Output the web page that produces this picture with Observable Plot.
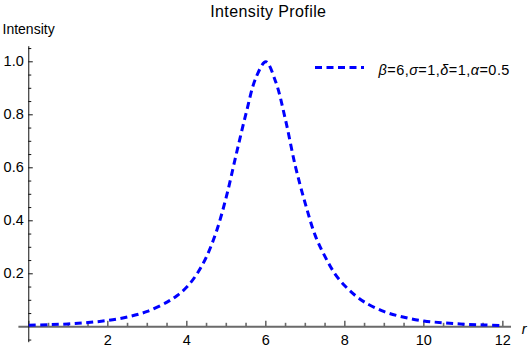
<!DOCTYPE html>
<html>
<head>
<meta charset="utf-8">
<script src="https://cdn.jsdelivr.net/npm/d3@7"></script>
<script src="https://cdn.jsdelivr.net/npm/@observablehq/plot@0.6"></script>
<style>
  html, body { margin: 0; padding: 0; background: #fff; }
  svg { display: block; }
</style>
</head>
<body>
<div id="chart"></div>
<script>
// Data
const rValues = [0, 0.5, 1, 1.5, 2, 2.5, 3, 3.5, 3.75, 4, 4.25, 4.5, 4.75, 5, 5.25, 5.5, 5.75, 6,
                 6.25, 6.5, 6.75, 7, 7.25, 7.5, 7.75, 8, 8.25, 8.5, 9, 9.5, 10, 10.5, 11, 11.5, 12];
const intensityValues = [0.006, 0.008, 0.011, 0.016, 0.024, 0.037, 0.058, 0.093, 0.117, 0.15, 0.198, 0.265, 0.36, 0.49, 0.65, 0.805, 0.94, 1.0,
                 0.925, 0.78, 0.605, 0.465, 0.345, 0.265, 0.2, 0.155, 0.12, 0.093, 0.057, 0.036, 0.022, 0.015, 0.01, 0.007, 0.005];
const xMajorTicks = [2, 4, 6, 8, 10, 12];
const xMinorTicks = [0.5, 1, 1.5, 2.5, 3, 3.5, 4.5, 5, 5.5, 6.5, 7, 7.5, 8.5, 9, 9.5, 10.5, 11, 11.5];
const yMajorTicks = [0.2, 0.4, 0.6, 0.8, 1.0];
const yMinorTicks = [-0.05, 0.05, 0.1, 0.15, 0.25, 0.3, 0.35, 0.45, 0.5, 0.55, 0.65, 0.7, 0.75, 0.85, 0.9, 0.95, 1.05];
const xDomain = [-0.25, 12.25];
const yDomain = [-0.06, 1.057];
const titleText = "Intensity Profile";
const yLabel = "Intensity";
const xLabel = "r";
const legendParts = [
  ["β", true], ["=6,", false], ["σ", true], ["=1,", false],
  ["δ", true], ["=1,", false], ["α", true], ["=0.5", false]
];

const data = rValues.map((r, i) => ({r, v: intensityValues[i]}));

const W = 528, H = 347;
const mL = 18.4, mR = 15.8, mT = 46.2, mB = 4.8;
// pixel -> data helpers for tick lengths
const pxX = (xDomain[1] - xDomain[0]) / (W - mL - mR);
const pxY = (yDomain[1] - yDomain[0]) / (H - mT - mB);

const font = "'Liberation Sans', Arial, sans-serif";

const plot = Plot.plot({
  width: W,
  height: H,
  marginLeft: mL,
  marginRight: mR,
  marginTop: mT,
  marginBottom: mB,
  x: {domain: xDomain, axis: null},
  y: {domain: yDomain, axis: null},
  style: {fontFamily: font, background: "#fff", overflow: "visible"},
  marks: [
    // x axis line
    Plot.ruleY([0], {x1: xDomain[0], x2: xDomain[1] - 0.03, stroke: "#6a6a6a", strokeWidth: 2}),
    // x ticks (upward)
    Plot.ruleX([0, ...xMajorTicks], {y1: 0, y2: 5.5 * pxY, stroke: "#6a6a6a", strokeWidth: 1.6}),
    Plot.ruleX(xMinorTicks, {y1: 0, y2: 3.5 * pxY, stroke: "#6a6a6a", strokeWidth: 1.6}),
    // x tick labels
    Plot.text(xMajorTicks, {x: d => d, y: 0, text: d => String(d), dy: 18, lineAnchor: "bottom",
      fontSize: 14.5, fill: "#000"}),
    // y axis line
    Plot.ruleX([0], {y1: yDomain[0], y2: yDomain[1], stroke: "#111", strokeWidth: 1}),
    // y ticks (rightward)
    Plot.ruleY(yMajorTicks, {x1: 0, x2: 4.5 * pxX, stroke: "#111", strokeWidth: 1}),
    Plot.ruleY(yMinorTicks, {x1: 0, x2: 3 * pxX, stroke: "#111", strokeWidth: 1}),
    // y tick labels
    Plot.text(yMajorTicks, {x: 0, y: d => d, text: d => d.toFixed(1), dx: -5, textAnchor: "end",
      lineAnchor: "middle", fontSize: 14.5, fill: "#000"}),
    // curve
    Plot.line(data, {x: "r", y: "v", stroke: "#0000ff", strokeWidth: 3, strokeDasharray: "7,4.5",
      curve: "catmull-rom", strokeLinecap: "butt"}),
    // title
    Plot.text([titleText], {frameAnchor: "top", dx: 2.5, dy: -mT + 16, lineAnchor: "bottom",
      fontSize: 16, fill: "#000"}),
    // y label
    Plot.text([yLabel], {frameAnchor: "top-left", dx: -mL + 2, dy: -mT + 33, lineAnchor: "bottom",
      textAnchor: "start", fontSize: 14, fill: "#000"}),
    // x label
    Plot.text([xLabel], {x: xDomain[1], y: 0, dx: 9, dy: 7, lineAnchor: "bottom", textAnchor: "start",
      fontSize: 14.5, fontStyle: "italic", fill: "#000"})
  ]
});

// Legend drawn inside the svg
const svg = d3.select(plot);
svg.selectAll("text").filter(function() { return this.textContent === titleText; })
  .attr("letter-spacing", "0.4px");
const lg = svg.append("g").attr("font-family", font).attr("text-anchor", "start");
lg.append("line")
  .attr("x1", 315).attr("x2", 364).attr("y1", 67.5).attr("y2", 67.5)
  .attr("stroke", "#0000ff").attr("stroke-width", 3).attr("stroke-dasharray", "7,4.5");
const t = lg.append("text").attr("x", 378.5).attr("y", 75).attr("font-size", 14.5)
  .attr("fill", "#000").attr("text-anchor", "start").attr("letter-spacing", "0.45px");
legendParts.forEach(([s, it]) => {
  t.append("tspan").attr("font-style", it ? "italic" : "normal").text(s);
});

document.getElementById("chart").appendChild(plot);
</script>
</body>
</html>
